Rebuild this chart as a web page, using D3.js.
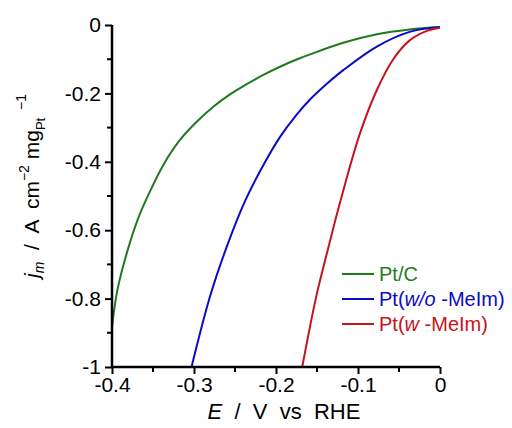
<!DOCTYPE html>
<html>
<head>
<meta charset="utf-8">
<script src="https://cdn.jsdelivr.net/npm/d3@7"></script>
<style>
  body { margin: 0; background: #fff; }
  svg { font-family: "Liberation Sans", Arial, sans-serif; }
</style>
</head>
<body>
<div id="chart"></div>
<script>
// Data (E in V vs RHE, j in A cm^-2 mg_Pt^-1)
const ePtC = [-0.4, -0.3935, -0.381, -0.369, -0.3577, -0.3374, -0.3171, -0.2967, -0.2765, -0.2561, -0.2357, -0.2155, -0.1951, -0.1748, -0.1585, -0.118, -0.077, -0.037, 0];
const jPtC = [-0.885, -0.776, -0.659, -0.571, -0.507, -0.409, -0.336, -0.283, -0.239, -0.203, -0.173, -0.146, -0.122, -0.101, -0.086, -0.052, -0.027, -0.013, -0.006];

const eWo = [-0.303, -0.2805, -0.26, -0.2378, -0.2155, -0.195, -0.1748, -0.1585, -0.138, -0.118, -0.077, -0.037, 0];
const jWo = [-1.0, -0.794, -0.648, -0.515, -0.41, -0.327, -0.262, -0.218, -0.172, -0.132, -0.063, -0.02, -0.006];

const eW = [-0.168, -0.151, -0.135, -0.122, -0.098, -0.077, -0.057, -0.037, -0.016, 0];
const jW = [-1.0, -0.795, -0.64, -0.52, -0.32, -0.19, -0.1, -0.045, -0.017, -0.008];

const xTicks = [-0.4, -0.3, -0.2, -0.1, 0];
const yTicks = [0, -0.2, -0.4, -0.6, -0.8, -1];

const width = 512, height = 428;
const margin = {top: 25, right: 72, bottom: 61, left: 112};

const svg = d3.select("#chart").append("svg")
    .attr("width", width)
    .attr("height", height);

const x = d3.scaleLinear().domain([-0.4, 0]).range([margin.left, width - margin.right]);
const y = d3.scaleLinear().domain([-1, 0]).range([height - margin.bottom, margin.top]);

// clip so curves stay inside the frame
svg.append("clipPath").attr("id", "clip")
  .append("rect")
    .attr("x", margin.left).attr("y", margin.top - 3)
    .attr("width", x(0) - x(-0.4) + 3).attr("height", y(-1) - y(0) + 3);

const series = [
  {name: "Pt/C", e: ePtC, j: jPtC, color: "#1f7a1f"},
  {name: "wo", e: eWo, j: jWo, color: "#0b0bc4"},
  {name: "w", e: eW, j: jW, color: "#c8121c"}
];

const line = d3.line()
    .x(d => x(d[0]))
    .y(d => y(d[1]))
    .curve(d3.curveCatmullRom.alpha(0.5));

svg.append("g").attr("clip-path", "url(#clip)")
  .selectAll("path")
  .data(series)
  .enter().append("path")
    .attr("d", s => line(s.e.map((v, i) => [v, s.j[i]])))
    .attr("fill", "none")
    .attr("stroke", s => s.color)
    .attr("stroke-width", 2);

// Axes
const fmt = d => d === 0 ? "0" : d === -1 ? "-1" : d3.format(".1f")(d).replace("−", "-");

const xAxis = svg.append("g")
    .attr("transform", `translate(0,${y(-1)})`)
    .call(d3.axisBottom(x).tickValues(xTicks).tickSize(7).tickPadding(3).tickFormat(fmt));

const yAxis = svg.append("g")
    .attr("transform", `translate(${x(-0.4)},0)`)
    .call(d3.axisLeft(y).tickValues(yTicks).tickSize(7).tickPadding(4).tickFormat(fmt));

// minor ticks
svg.append("g").selectAll("line")
  .data([-0.35, -0.25, -0.15, -0.05])
  .enter().append("line")
    .attr("x1", d => x(d)).attr("x2", d => x(d))
    .attr("y1", y(-1)).attr("y2", y(-1) + 5)
    .attr("stroke", "#000").attr("stroke-width", 2);

svg.append("g").selectAll("line")
  .data([-0.1, -0.3, -0.5, -0.7, -0.9])
  .enter().append("line")
    .attr("x1", x(-0.4)).attr("x2", x(-0.4) - 5)
    .attr("y1", d => y(d)).attr("y2", d => y(d))
    .attr("stroke", "#000").attr("stroke-width", 2);

[xAxis, yAxis].forEach(a => {
  a.select(".domain").attr("stroke-width", 2.5);
  a.selectAll(".tick line").attr("stroke-width", 2);
  a.selectAll(".tick text").attr("font-size", 21).attr("fill", "#000")
    .attr("font-family", "Liberation Sans, Arial, sans-serif");
});
xAxis.select(".domain").attr("d", `M${x(-0.4)},0H${x(0)}`);
yAxis.select(".domain").attr("d", `M0,${y(-1)}V${y(0)}`);

// X axis title
const xt = svg.append("text")
    .attr("x", 284).attr("y", 419)
    .attr("text-anchor", "middle")
    .attr("font-size", 22)
    .attr("xml:space", "preserve");
xt.append("tspan").attr("font-style", "italic").text("E");
xt.append("tspan").text("  /  V  vs  RHE");

// Y axis title
const yt = svg.append("text")
    .attr("transform", "translate(39,186) rotate(-90)")
    .attr("text-anchor", "middle")
    .attr("font-size", 21)
    .attr("xml:space", "preserve");
yt.append("tspan").attr("font-style", "italic").text("j");
yt.append("tspan").attr("font-style", "italic").attr("font-size", 14).attr("dy", 5).text("m");
yt.append("tspan").attr("dy", -5).text("  /  A  cm");
yt.append("tspan").attr("font-size", 14).attr("dy", -10).text("−2");
yt.append("tspan").attr("dy", 10).text(" mg");
yt.append("tspan").attr("font-size", 13).attr("dy", 6).text("Pt");
yt.append("tspan").attr("font-size", 14).attr("dy", -19).text("  −1");

// Legend
const legendItems = [
  {parts: [["Pt/C", false]], color: series[0].color},
  {parts: [["Pt(", false], ["w/o", true], [" -MeIm)", false]], color: series[1].color},
  {parts: [["Pt(", false], ["w", true], [" -MeIm)", false]], color: series[2].color}
];

const legend = svg.append("g");
legendItems.forEach((item, i) => {
  const ly = 274 + i * 25;
  legend.append("line")
    .attr("x1", 342).attr("x2", 374)
    .attr("y1", ly).attr("y2", ly)
    .attr("stroke", item.color).attr("stroke-width", 2);
  const t = legend.append("text")
    .attr("x", 379).attr("y", ly + 7)
    .attr("font-size", 20)
    .attr("fill", item.color)
    .attr("xml:space", "preserve");
  item.parts.forEach(p => {
    t.append("tspan").attr("font-style", p[1] ? "italic" : "normal").text(p[0]);
  });
});
</script>
</body>
</html>
